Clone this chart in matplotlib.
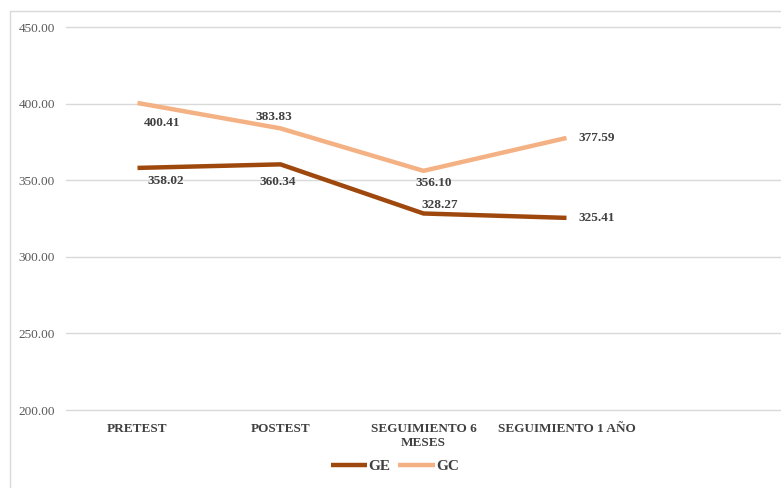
import matplotlib
matplotlib.use("Agg")
import matplotlib.pyplot as plt
from matplotlib.patches import Rectangle

categories = ["PRETEST", "POSTEST", "SEGUIMIENTO 6\nMESES", "SEGUIMIENTO 1 AÑO", ""]
ge_values = [358.02, 360.34, 328.27, 325.41]
gc_values = [400.41, 383.83, 356.10, 377.59]
y_ticks = [200, 250, 300, 350, 400, 450]

ge_color = "#9E480E"
gc_color = "#F4B183"

# label centre offsets from each point, in pixels (dx, dy)
ge_offsets = [(28, -13), (-3, -18), (16, 8), (30, 0)]
gc_offsets = [(25, -20), (-7, 11), (10, -12), (30, 0)]

plt.rcParams["font.family"] = ["Liberation Serif", "DejaVu Serif"]

fig = plt.figure(figsize=(7.81, 4.88), dpi=100)
ax = fig.add_axes([66 / 781, 1 - 410 / 488, 715 / 781, 383 / 488])

x = list(range(len(ge_values)))
ax.plot(x, ge_values, color=ge_color, lw=3.2, label="GE", solid_capstyle="butt")
ax.plot(x, gc_values, color=gc_color, lw=3.2, label="GC", solid_capstyle="butt")

def annotate(values, offsets):
    for i, (v, (dx, dy)) in enumerate(zip(values, offsets)):
        ax.annotate(f"{v:.2f}", (i, v), xytext=(dx, dy), textcoords="offset pixels",
                    ha="center", va="center", fontsize=9.5, fontweight="bold",
                    color="#404040")

annotate(ge_values, ge_offsets)
annotate(gc_values, gc_offsets)

ax.set_xlim(-0.5, 4.5)
ax.set_ylim(200, 450)
ax.set_yticks(y_ticks)
ax.set_yticklabels([f"{t:.2f}" for t in y_ticks], fontsize=9.5, color="#595959")
ax.set_xticks(range(len(categories)))
ax.set_xticklabels(categories, fontsize=9.5, fontweight="bold", color="#404040",
                   linespacing=1.3)
ax.tick_params(axis="both", length=0)
ax.tick_params(axis="y", pad=34)
ax.tick_params(axis="x", pad=9)
for lab in ax.get_yticklabels():
    lab.set_horizontalalignment("left")
ax.grid(axis="y", color="#D9D9D9", lw=1)
for gl in ax.get_ygridlines():
    gl.set_clip_on(False)
ax.set_axisbelow(True)
for s in ax.spines.values():
    s.set_visible(False)

leg = fig.legend(loc="center", bbox_to_anchor=(395 / 781, 1 - 466 / 488), ncol=2,
                 frameon=False, fontsize=11, handlelength=2.4, columnspacing=0.5,
                 handletextpad=0.1)
for t in leg.get_texts():
    t.set_fontweight("bold")
    t.set_color("#404040")

fig.patches.append(Rectangle((10 / 781, -0.1), 1.0, 1 - 11 / 488 + 0.1,
                             transform=fig.transFigure, fill=False,
                             edgecolor="#D9D9D9", lw=1))

fig.savefig("out.png", dpi=100)
